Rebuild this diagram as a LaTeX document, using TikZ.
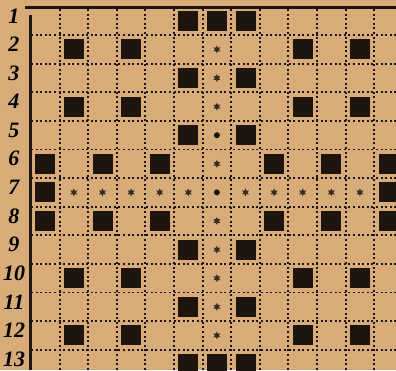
\documentclass[tikz,border=0pt]{standalone}
\usepackage{fontspec}
\newfontfamily\rowfont{Liberation Serif Bold Italic}
\usetikzlibrary{shapes.geometric}

\definecolor{paper}{RGB}{216,172,120}
\definecolor{ink}{RGB}{30,21,14}

\begin{document}
\begin{tikzpicture}[
    x=1pt, y=-1pt,
    block/.style={fill=ink, minimum size=20pt, inner sep=0pt},
    spark/.style={star, star points=6, star point ratio=2.0, fill=ink!90, minimum size=8pt, inner sep=0pt},
    spot/.style={circle, fill=ink, minimum size=6pt, inner sep=0pt},
    dotline/.style={ink, line width=1.9pt, dash pattern=on 1.9pt off 2.7pt},
    rowlabel/.style={inner sep=0pt}
  ]
    \def\cw{28.6}
    % Paper
    \fill[paper] (0,0) rectangle (396,370);
    \useasboundingbox (0,0) rectangle (396,370);

    % Dotted grid
    \foreach \k in {1,...,12} {
      \draw[dotline] ({31+\k*\cw},9) -- ({31+\k*\cw},370);
      \draw[dotline] (31,{6.5+\k*\cw}) -- (396,{6.5+\k*\cw});
    }

    % Frame rules
    \draw[ink, line width=2.6pt] (25,7.5) -- (396,7.5);
    \draw[ink, line width=3pt] (30,15) -- (30,370);

    % Row numbers
    \foreach \r in {1,...,13}
      \node[rowlabel] (lab-\r) at (14,{6.5+(\r-0.5)*\cw-5}) {\rowfont\fontsize{22}{22}\selectfont\r};

    % Black squares
    \foreach \r/\cols in {1/{5,6,7}, 2/{1,3,9,11}, 3/{5,7}, 4/{1,3,9,11}, 5/{5,7},
                          6/{0,2,4,8,10,12}, 7/{0,12}, 8/{0,2,4,8,10,12}, 9/{5,7},
                          10/{1,3,9,11}, 11/{5,7}, 12/{1,3,9,11}, 13/{5,6,7}}
      \foreach \c in \cols
        \node[block] (sq-\r-\c) at ({31+(\c+0.5)*\cw},{6.5+(\r-0.5)*\cw}) {};

    % Centre column marks
    \foreach \r in {2,3,4,6,8,9,10,11,12}
      \node[spark] (mk-\r-6) at ({31+6.5*\cw},{6.5+(\r-0.5)*\cw}) {};
    \foreach \r in {5,7}
      \node[spot] (mk-\r-6) at ({31+6.5*\cw},{6.5+(\r-0.5)*\cw}) {};

    % Middle row marks
    \foreach \c in {1,2,3,4,5,7,8,9,10,11}
      \node[spark] (mk-7-\c) at ({31+(\c+0.5)*\cw},{6.5+6.5*\cw}) {};
  \end{tikzpicture}
\end{document}
